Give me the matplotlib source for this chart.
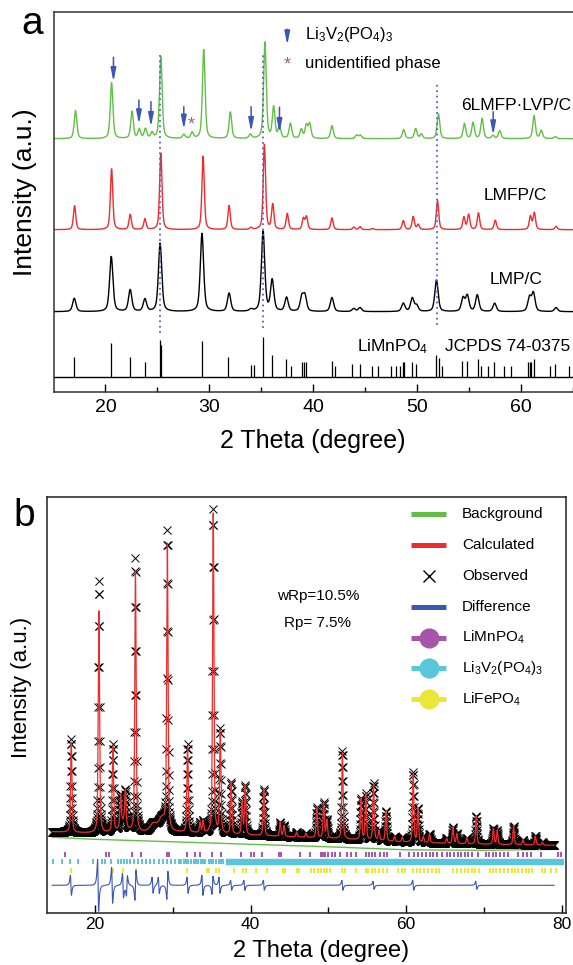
import numpy as np
import matplotlib
matplotlib.use('Agg')
import matplotlib.pyplot as plt
from matplotlib.lines import Line2D

plt.rcParams['font.family'] = ['Liberation Sans', 'DejaVu Sans']
plt.rcParams['mathtext.fontset'] = 'custom'
plt.rcParams['mathtext.rm'] = 'Liberation Sans'
plt.rcParams['mathtext.it'] = 'Liberation Sans:italic'
plt.rcParams['mathtext.bf'] = 'Liberation Sans:bold'

W, H = 573, 965

# ---------------- panel a data ----------------
green_pos = [17.12, 20.59, 22.56, 23.26, 23.85, 24.48, 25.33, 27.54, 28.34, 29.46, 32.02, 33.95,
             35.35, 36.19, 36.75, 37.80, 38.85, 39.34, 39.66, 41.80, 44.18, 44.53, 48.70, 49.85,
             50.40, 52.05, 54.55, 55.38, 56.25, 57.30, 57.94, 61.25, 61.95, 63.30]
green_h = [28, 56, 27, 9, 9.5, 5.5, 82, 4, 6, 89, 26.5, 4,
           96.5, 31, 12, 15, 9, 13, 14.5, 13, 3.5, 3.5, 9, 10,
           4.5, 25, 15, 16, 20, 3, 8, 23, 8, 2]

red_pos = [17.03, 20.59, 22.38, 23.80, 25.33, 29.40, 31.90, 34.00, 35.30, 36.10, 37.50, 39.05,
           39.35, 41.80, 43.90, 44.50, 45.70, 48.67, 49.62, 50.10, 51.96, 54.50, 54.96, 55.90,
           57.52, 60.90, 61.28, 63.37]
red_h = [24, 61, 15, 10.7, 76.7, 73.4, 24, 2, 85, 25, 16, 11,
         12.7, 11.7, 2.5, 3, 1, 9, 13, 5, 29, 12.4, 15, 16.7,
         9.4, 13.4, 16.7, 3.4]

black_pos = [17.00, 20.56, 22.38, 23.80, 25.26, 29.29, 31.90, 34.00, 35.17, 36.05, 37.43, 38.90,
             39.20, 41.80, 43.90, 44.50, 48.67, 49.53, 49.95, 51.86, 54.42, 54.83, 55.79, 57.46,
             60.81, 61.19, 63.37]
black_h = [13.3, 55, 21.7, 12.3, 68.3, 78.3, 18.3, 2, 80, 31, 14, 14,
           15, 14, 3, 4, 8.3, 13.3, 6, 31.6, 13.3, 15.6, 16.6, 8.3,
           14, 18.3, 4]

trace_offset = [253, 162, 80]
trace_width = [0.30, 0.27, 0.38]
trace_names = ['6LMFP·LVP/C', 'LMFP/C', 'LMP/C']

# JCPDS 74-0375 sticks
stick_pos = [16.95, 20.56, 22.38, 23.79, 25.26, 25.36, 29.29, 31.84, 34.01, 34.26, 35.17, 36.05,
             37.41, 37.87, 38.93, 39.10, 39.34, 41.80, 42.08, 43.76, 44.46, 45.65, 46.28, 47.51,
             47.96, 48.31, 48.63, 48.74, 49.54, 49.89, 51.82, 52.06, 52.41, 54.34, 54.76, 55.81,
             56.17, 56.80, 57.39, 58.37, 59.07, 60.65, 60.82, 61.00, 61.27, 62.75, 63.28, 64.60]
stick_h = [20, 34, 19.3, 14.3, 36.7, 31.7, 35.7, 19.3, 11.7, 11.7, 39.3, 21.7,
           17.7, 11, 15, 15, 15, 15.7, 11, 12.7, 12.7, 11, 11, 11,
           11, 11, 14.3, 14.3, 15, 12.7, 21.3, 18.3, 11, 15.7, 16, 17.7,
           11, 11, 14.3, 11, 11, 15, 15, 14.3, 17.3, 11, 12.7, 11]

# Li3V2(PO4)3 arrows: position, tail height, head height
arrow_pos = [20.77, 23.22, 24.38, 27.54, 34.02, 36.75, 57.32]
arrow_top = [334.4, 291.7, 290, 285, 285, 284.4, 280]
arrow_tip = [310, 267.7, 265, 262.4, 260, 259, 256.7]
star_pos, star_y = 28.3, 266.7

guide_pos = [25.26, 35.2, 51.9]
guide_top = [336.7, 340, 307.7]
guide_bot = [58.4, 63.4, 66.7]

# ---------------- panel b data ----------------
b_pos = [16.95, 20.5, 22.3, 23.3, 23.9, 25.2, 29.3, 31.9, 33.5, 33.9, 35.2, 36.1,
         37.5, 38.9, 39.3, 41.7, 43.8, 44.3, 45.9, 47.1, 48.5, 49.4, 49.8, 51.8,
         54.2, 54.8, 55.8, 56.5, 57.4, 58.5, 59.5, 60.9, 61.5, 62.2, 63.0, 65.2,
         66.0, 66.5, 67.8, 69.0, 71.2, 71.7, 73.8, 75.0, 76.6, 77.5]
b_obs_h = [93, 252, 87, 30, 35, 274, 298, 88, 10, 12, 324, 104,
           52, 32, 49, 47, 14, 11, 5, 4, 30, 35, 18, 88,
           41, 46, 57, 10, 30, 5, 5, 70, 34, 6, 9, 5,
           16, 10, 6, 28, 16, 14, 19, 5, 9, 3]
b_calc_h = [90, 222, 85, 30, 35, 260, 285, 86, 10, 12, 320, 102,
            52, 32, 49, 47, 14, 11, 5, 4, 30, 35, 18, 86,
            41, 46, 57, 10, 30, 5, 5, 68, 34, 6, 9, 5,
            16, 10, 6, 28, 16, 14, 19, 5, 9, 3]
b_hump_pos = [23.6, 27.5, 28.6]
b_hump_h = [10, 8, 13]

b_base_x = [14.5, 20, 30, 40, 50, 60, 70, 79.5]
b_base_y = [81.5, 80, 81, 78, 75, 71, 69, 68]
b_bg_y = [76, 74, 71.5, 69, 66.5, 63.5, 63, 64]

b_diff_pos = [16.9, 20.4, 22.2, 23.6, 24.1, 25.2, 27.4, 28.2, 29.3, 31.9, 33.8, 35.1,
              36.0, 37.5, 39.2, 41.7, 51.8, 55.8, 60.9, 69.0]
b_diff_amp = [10, 26, 18, 12, -10, -15, 8, 8, -14, 8, 10, -9,
              8, 5, 5, 5, 5, 4, 5, 4]

lmp_ticks = [16.1, 21.4, 21.8, 24.7, 25.9, 29.2, 29.5, 31.8, 32.9, 33.5, 35.0, 36.2,
             38.8, 40.1, 40.4, 41.5, 43.7, 43.9, 46.3, 47.6, 49.0, 49.3, 49.6, 50.0,
             50.4, 50.8, 51.5, 52.4, 52.9, 53.5, 54.8, 55.2, 55.6, 56.0, 56.6, 57.1,
             57.5, 59.2, 60.4, 61.0, 61.5, 62.0, 62.5, 63.0, 63.5, 64.0, 64.6, 65.2,
             65.6, 66.1, 66.6, 67.0, 67.5, 68.0, 68.5, 69.2, 70.3, 70.7, 71.2, 71.6,
             72.1, 72.6, 73.1, 74.4, 75.0, 75.5, 76.1, 77.3, 79.5, 79.9]
lvp_ticks = [14.6, 15.8, 16.8, 17.8, 19.8, 20.9, 21.3, 22.1, 23.0, 23.3, 23.7, 24.1,
             24.5, 25.0, 25.5, 26.0, 26.5, 27.1, 27.6, 28.2, 28.7, 29.2, 29.8, 30.3,
             30.8, 31.1, 31.4, 31.7, 32.0, 32.3, 32.7, 33.0, 33.3, 33.6, 33.9, 34.2,
             34.6, 34.9, 35.2, 35.5, 35.9, 36.2, 36.5]
lvp_spans = [(36.85, 16.05), (53.05, 4.75), (57.95, 4.15), (62.25, 3.75), (66.15, 13.95)]
lfp_ticks = [16.95, 22.35, 23.6, 25.27, 31.85, 34.34, 34.67, 35.52, 36.0, 37.87, 39.04, 39.37,
             40.69, 42.1, 44.22, 44.36, 45.96, 46.24, 47.8, 48.2, 48.6, 49.0, 49.4, 49.8,
             50.2, 51.7, 52.1, 53.6, 54.8, 55.1, 55.6, 56.0, 56.5, 57.0, 57.5, 59.0,
             59.5, 59.9, 60.9, 61.4, 61.8, 62.3, 62.8, 63.3, 63.8, 64.2, 66.0, 66.5,
             67.0, 67.5, 68.0, 68.4, 68.9, 69.3, 70.8, 71.2, 71.6, 72.1, 72.6, 73.1,
             73.6, 74.0, 74.4, 74.9, 75.4, 75.8, 76.2, 77.4, 77.8, 78.6, 79.3]

GREEN = '#62bf46'
RED = '#ee2c2c'
BLUE = '#3b56b4'
PURPLE = '#a655a8'
CYAN = '#58c6dc'
YELLOW = '#ece63a'


def fx(px):
    return px / W


def fy(py):
    return 1 - py / H


def profile(x, pos, h, w):
    y = np.zeros_like(x)
    for p, a in zip(pos, h):
        t = (x - p) / (w / 2)
        y += a * (0.5 / (1 + t ** 2) + 0.5 * np.exp(-np.log(2) * t ** 2))
    return y


fig = plt.figure(figsize=(W / 100, H / 100), dpi=100)

# ================= panel a =================
ax = fig.add_axes([fx(53.5), fy(391.7), fx(W - 53.5), (391.7 - 12.3) / H])
xa = np.linspace(15, 65, 2501)
colors = [GREEN, RED, 'black']
for pos, h, off, w, c in zip([green_pos, red_pos, black_pos], [green_h, red_h, black_h],
                             trace_offset, trace_width, colors):
    ax.plot(xa, off + profile(xa, pos, h, w), color=c, lw=1.0)

ax.vlines(stick_pos, 15, 15 + np.array(stick_h), color='black', lw=0.9)
ax.axhline(15, color='black', lw=1.0)
ax.vlines(guide_pos, guide_bot, guide_top, color='#4a63d6', lw=1.3, linestyles=(0, (1, 2)))

arrow_style = '-|>,head_length=0.8,head_width=0.16'
for x0, y0, y1 in zip(arrow_pos, arrow_top, arrow_tip):
    ax.annotate('', xy=(x0, y1), xytext=(x0, y0),
                arrowprops=dict(arrowstyle=arrow_style, color=BLUE, lw=1.1, shrinkA=0, shrinkB=0))
ax.text(star_pos, star_y, '*', color=PURPLE, fontsize=13, ha='center', va='center')

# legend of markers
ax.annotate('', xy=(37.5, 346.7), xytext=(37.5, 362.4),
            arrowprops=dict(arrowstyle=arrow_style, color=BLUE, lw=1.1, shrinkA=0, shrinkB=0))
ax.text(39.21, 357.4, 'Li$_3$V$_2$(PO$_4$)$_3$', fontsize=12, va='center')
ax.text(37.5, 326.5, '*', color=PURPLE, fontsize=13, ha='center', va='center')
ax.text(39.21, 328.4, 'unidentified phase', fontsize=12, va='center')

ax.text(54.26, 286.7, trace_names[0], fontsize=12.5, va='center')
ax.text(56.37, 196.7, trace_names[1], fontsize=12.5, va='center')
ax.text(57.0, 111.7, trace_names[2], fontsize=12.5, va='center')
ax.text(44.19, 45, 'LiMnPO$_4$', fontsize=12.5, va='center')
ax.text(52.7, 45, 'JCPDS 74-0375', fontsize=12.5, va='center')

ax.set_xlim(15, 15 + (W - 53.5) / 10.43)
ax.set_ylim(0, 379.4)
ax.set_xticks([20, 30, 40, 50, 60])
ax.set_xticks([25, 35, 45, 55, 65], minor=True)
ax.set_yticks([])
ax.tick_params(axis='x', which='both', direction='in', labelsize=14, pad=5.3, width=1.0)
ax.tick_params(axis='x', which='major', length=5.5)
ax.tick_params(axis='x', which='minor', length=3.5)
ax.spines['right'].set_visible(False)
for s in ax.spines.values():
    s.set_linewidth(1.1)
    s.set_color('#333333')

fig.text(fx(313), fy(441), '2 Theta (degree)', fontsize=18, ha='center', va='center')
fig.text(fx(25), fy(191.7), 'Intensity (a.u.)', fontsize=19, ha='center', va='center', rotation=90)
fig.text(fx(31.7), fy(24), 'a', fontsize=28, ha='center', va='center')

# ================= panel b =================
bx = fig.add_axes([fx(46.7), fy(913.3), fx(565.5 - 46.7), (913.3 - 496.7) / H])
xb = np.linspace(14.5, 79.0, 2581)
base = np.interp(xb, b_base_x, b_base_y) + profile(xb, b_hump_pos, b_hump_h, 1.0)
obs = base + profile(xb, b_pos, b_obs_h, 0.2)
calc = base + profile(xb, b_pos, b_calc_h, 0.2)
t = (xb[:, None] - np.array(b_diff_pos)[None, :]) / 0.12
diff = 28 + (np.array(b_diff_amp)[None, :] * (-2 * t / (1 + t ** 2) ** 2) / 0.6495).sum(axis=1)

bx.plot(b_base_x, b_bg_y, color=GREEN, lw=1.0, zorder=2)
bx.plot(xb, obs, 'x', color='black', ms=5.5, mew=0.7, zorder=3)
bx.plot(xb, calc, color=RED, lw=0.9, zorder=4)
bx.plot(xb, diff, color=BLUE, lw=0.8, zorder=3)

bx.vlines(lmp_ticks, 56.5, 61.5, color=PURPLE, lw=1.4)
bx.vlines(lvp_ticks, 49, 54, color=CYAN, lw=1.4)
bx.broken_barh(lvp_spans, (49, 5), color=CYAN)
bx.vlines(lfp_ticks, 40.8, 45.8, color=YELLOW, lw=1.4)

bx.text(48.66, 317.6, 'wRp=10.5%', fontsize=11, ha='center', va='center')
bx.text(48.66, 290.3, 'Rp= 7.5%', fontsize=11, ha='center', va='center')

bx.set_xlim(20 - 48.3 / 7.78, 20 + 470.5 / 7.78)
bx.set_ylim(0, 416.6)
bx.set_xticks([20, 40, 60, 80])
bx.set_xticks([30, 50, 70], minor=True)
bx.set_yticks([])
bx.tick_params(axis='x', which='both', direction='in', labelsize=12.5, pad=3, width=1.0)
bx.tick_params(axis='x', which='major', length=5.5)
bx.tick_params(axis='x', which='minor', length=4)
for s in bx.spines.values():
    s.set_linewidth(1.1)
    s.set_color('#222222')

# legend, drawn by hand
leg_labels = ['Background', 'Calculated', 'Observed', 'Difference',
              'LiMnPO$_4$', 'Li$_3$V$_2$(PO$_4$)$_3$', 'LiFePO$_4$']
leg_colors = [GREEN, RED, 'black', BLUE, PURPLE, CYAN, YELLOW]
leg_kind = ['line', 'line', 'x', 'line', 'phase', 'phase', 'phase']
for i, (lab, c, k) in enumerate(zip(leg_labels, leg_colors, leg_kind)):
    yy = fy(514.3 + 30.8 * i)
    if k == 'x':
        fig.add_artist(Line2D([fx(428.5)], [yy], marker='x', ms=9, mew=1.0, color=c, ls='none'))
    else:
        fig.add_artist(Line2D([fx(411), fx(446)], [yy, yy], color=c, lw=3.6, solid_capstyle='butt'))
    if k == 'phase':
        fig.add_artist(Line2D([fx(428.5)], [yy], marker='o', ms=13.5, color=c, mec=c, ls='none'))
    fig.text(fx(462), yy, lab, fontsize=11, va='center')

fig.text(fx(321), fy(951), '2 Theta (degree)', fontsize=17, ha='center', va='center')
fig.text(fx(22), fy(687), 'Intensity (a.u.)', fontsize=16, ha='center', va='center', rotation=90)
fig.text(fx(24), fy(516), 'b', fontsize=28, ha='center', va='center')

fig.savefig('out.png', dpi=100)
